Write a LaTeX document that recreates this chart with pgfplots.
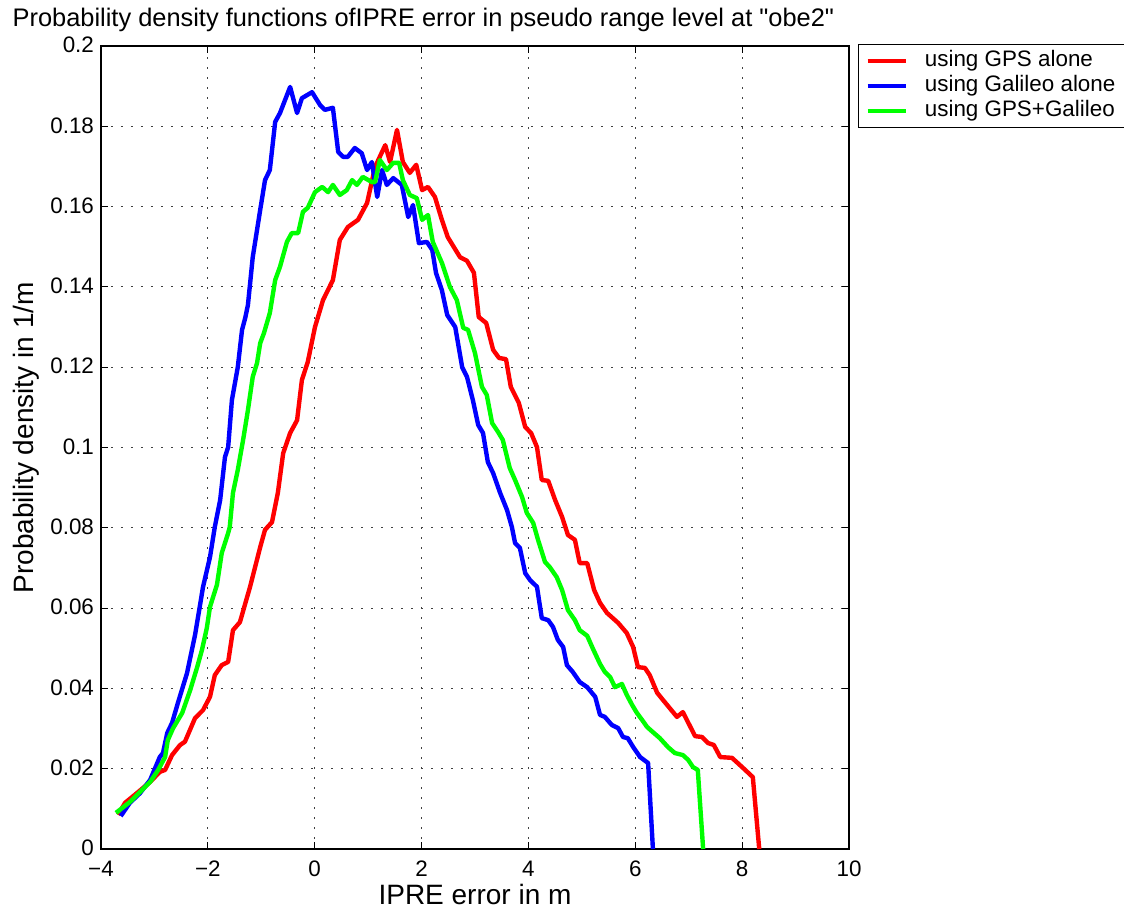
\documentclass[border=0pt]{standalone}
\usepackage{fontspec}
\setmainfont{Liberation Sans}[Ligatures=TeXOff]
\usepackage{pgfplots}
\pgfplotsset{compat=1.18}
\begin{document}
\begin{tikzpicture}
\begin{axis}[
  scale only axis,
  width=374pt, height=401.5pt,
  xmin=-4, xmax=10, ymin=0, ymax=0.2,
  xtick={-4,-2,0,2,4,6,8,10},
  xticklabels={−4,−2,0,2,4,6,8,10},
  ytick={0,0.02,0.04,0.06,0.08,0.1,0.12,0.14,0.16,0.18,0.2},
  yticklabels={0,0.02,0.04,0.06,0.08,0.1,0.12,0.14,0.16,0.18,0.2},
  tick label style={font=\fontsize{11.2}{13}\selectfont},
  xticklabel style={yshift=-2.5pt},
  yticklabel style={yshift=0.5pt},
  tick align=inside,
  major tick length=3.5pt,
  tick style={black, line width=0.5pt},
  axis line style={line width=0.8pt},
  grid=major,
  major grid style={black!75, line width=0.5pt, dash pattern=on 0.8pt off 4.2pt},
  every axis title shift=0pt,
  title={Probability density functions ofIPRE error in pseudo range level at "obe2"},
  title style={at={(0.431,1.0237)}, anchor=base, font=\fontsize{12.7}{15}\selectfont},
  xlabel={IPRE error in m},
  xlabel style={at={(0.5,-0.0685)}, anchor=base, font=\fontsize{14}{16}\selectfont},
  ylabel={Probability density in 1/m},
  ylabel style={at={(-0.0909,0.512)}, anchor=base, font=\fontsize{14}{16}\selectfont},
  legend image code/.code={\draw[#1] (0pt,0pt) -- (19pt,0pt);},
  legend style={at={(1.012,1.0025)}, anchor=north west, draw=black, line width=0.5pt,
    font=\fontsize{11.2}{12.5}\selectfont, inner xsep=3.5pt, inner ysep=2pt,
    nodes={inner ysep=0.25pt, text height=9pt, text depth=3pt},
    column sep=6.5pt, legend cell align=left},
  clip=true,
]
\addplot[red, line width=2.2pt, line join=round] coordinates {
(-3.68,0.0085) (-3.55,0.0115) (-3.33,0.0139) (-3.08,0.0167) (-2.90,0.0192) (-2.80,0.0197) (-2.67,0.0234) (-2.52,0.0259) (-2.43,0.0267) (-2.24,0.0326) (-2.09,0.0346) (-1.96,0.0379) (-1.87,0.0433) (-1.74,0.0458) (-1.62,0.0466) (-1.53,0.0545) (-1.40,0.0565) (-1.21,0.0653) (-1.02,0.0752) (-0.93,0.0795) (-0.80,0.0814) (-0.69,0.0887) (-0.59,0.0986) (-0.46,0.1036) (-0.33,0.1068) (-0.24,0.1168) (-0.13,0.1213) (0.005,0.1300) (0.155,0.1367) (0.34,0.1417) (0.47,0.1517) (0.62,0.1549) (0.81,0.1567) (0.98,0.1609) (1.13,0.1699) (1.32,0.1753) (1.41,0.1711) (1.54,0.1791) (1.65,0.1711) (1.78,0.1684) (1.90,0.1704) (2.01,0.1641) (2.12,0.1649) (2.25,0.1624) (2.38,0.1567) (2.49,0.1524) (2.72,0.1474) (2.85,0.1465) (2.98,0.1435) (3.07,0.1325) (3.21,0.1310) (3.34,0.1243) (3.45,0.1223) (3.58,0.1220) (3.67,0.1151) (3.82,0.1111) (3.94,0.1051) (4.05,0.1036) (4.16,0.1001) (4.25,0.0919) (4.37,0.0917) (4.50,0.0869) (4.63,0.0827) (4.74,0.0782) (4.87,0.0770) (4.96,0.0712) (5.10,0.0712) (5.23,0.0645) (5.34,0.0613) (5.47,0.0588) (5.68,0.0563) (5.84,0.0538) (5.96,0.0503) (6.05,0.0453) (6.18,0.0451) (6.27,0.0433) (6.41,0.0389) (6.52,0.0371) (6.78,0.0329) (6.89,0.0341) (7.12,0.0281) (7.25,0.0279) (7.36,0.0264) (7.47,0.0259) (7.59,0.0229) (7.81,0.0227) (8.00,0.0204) (8.20,0.0179) (8.32,0)
};
\addlegendentry{using GPS alone}
\addplot[blue, line width=2.2pt, line join=round] coordinates {
(-3.63,0.0082) (-3.46,0.0115) (-3.27,0.0139) (-3.08,0.0172) (-2.90,0.0229) (-2.84,0.0239) (-2.76,0.0289) (-2.67,0.0314) (-2.56,0.0364) (-2.39,0.0438) (-2.24,0.0533) (-2.09,0.0653) (-1.96,0.0727) (-1.87,0.0802) (-1.77,0.0869) (-1.68,0.0976) (-1.62,0.1001) (-1.55,0.1118) (-1.44,0.1200) (-1.36,0.1293) (-1.30,0.1323) (-1.25,0.1355) (-1.16,0.1474) (-1.02,0.1592) (-0.93,0.1666) (-0.84,0.1691) (-0.74,0.1811) (-0.65,0.1833) (-0.46,0.1898) (-0.33,0.1833) (-0.24,0.1870) (-0.05,0.1885) (0.10,0.1853) (0.19,0.1841) (0.34,0.1846) (0.44,0.1736) (0.53,0.1724) (0.62,0.1724) (0.75,0.1746) (0.88,0.1733) (0.98,0.1691) (1.07,0.1711) (1.17,0.1624) (1.26,0.1691) (1.35,0.1654) (1.47,0.1671) (1.63,0.1654) (1.75,0.1574) (1.84,0.1604) (1.95,0.1509) (2.10,0.1512) (2.20,0.1492) (2.27,0.1435) (2.38,0.1392) (2.48,0.1330) (2.63,0.1300) (2.76,0.1200) (2.85,0.1176) (2.96,0.1118) (3.06,0.1056) (3.15,0.1036) (3.24,0.0964) (3.34,0.0936) (3.47,0.0887) (3.60,0.0844) (3.69,0.0802) (3.75,0.0762) (3.84,0.0750) (3.94,0.0687) (4.03,0.0670) (4.16,0.0653) (4.25,0.0575) (4.37,0.0570) (4.46,0.0553) (4.55,0.0521) (4.65,0.0503) (4.72,0.0458) (4.83,0.0441) (4.96,0.0416) (5.10,0.0403) (5.25,0.0379) (5.34,0.0334) (5.43,0.0329) (5.56,0.0309) (5.68,0.0301) (5.77,0.0279) (5.86,0.0276) (5.96,0.0254) (6.09,0.0229) (6.24,0.0214) (6.33,0)
};
\addlegendentry{using Galileo alone}
\addplot[green, line width=2.2pt, line join=round] coordinates {
(-3.72,0.0090) (-3.46,0.0117) (-3.27,0.0142) (-3.08,0.0167) (-2.93,0.0197) (-2.80,0.0229) (-2.75,0.0271) (-2.65,0.0301) (-2.48,0.0339) (-2.33,0.0396) (-2.20,0.0453) (-2.11,0.0496) (-2.02,0.0550) (-1.96,0.0603) (-1.83,0.0658) (-1.74,0.0737) (-1.62,0.0787) (-1.59,0.0802) (-1.53,0.0887) (-1.44,0.0944) (-1.34,0.1019) (-1.25,0.1093) (-1.16,0.1176) (-1.08,0.1210) (-1.02,0.1260) (-0.95,0.1285) (-0.84,0.1335) (-0.74,0.1417) (-0.65,0.1450) (-0.52,0.1512) (-0.43,0.1534) (-0.31,0.1534) (-0.22,0.1587) (-0.13,0.1597) (0.005,0.1636) (0.14,0.1649) (0.25,0.1636) (0.34,0.1654) (0.47,0.1629) (0.60,0.1641) (0.70,0.1666) (0.79,0.1654) (0.90,0.1674) (1.07,0.1661) (1.13,0.1661) (1.22,0.1716) (1.35,0.1691) (1.47,0.1709) (1.58,0.1709) (1.65,0.1666) (1.78,0.1629) (1.91,0.1621) (2.01,0.1567) (2.12,0.1579) (2.21,0.1512) (2.38,0.1460) (2.53,0.1400) (2.66,0.1367) (2.78,0.1298) (2.87,0.1293) (3.00,0.1235) (3.13,0.1151) (3.22,0.1131) (3.32,0.1061) (3.43,0.1039) (3.52,0.1019) (3.65,0.0949) (3.75,0.0919) (3.88,0.0877) (3.97,0.0837) (4.09,0.0812) (4.18,0.0770) (4.31,0.0715) (4.40,0.0702) (4.53,0.0677) (4.63,0.0645) (4.74,0.0595) (4.87,0.0570) (4.96,0.0545) (5.10,0.0531) (5.21,0.0498) (5.34,0.0461) (5.43,0.0441) (5.53,0.0428) (5.62,0.0403) (5.75,0.0411) (5.84,0.0384) (5.94,0.0359) (6.03,0.0339) (6.13,0.0321) (6.22,0.0304) (6.33,0.0291) (6.46,0.0276) (6.61,0.0254) (6.74,0.0239) (6.89,0.0234) (6.99,0.0222) (7.08,0.0204) (7.17,0.0197) (7.27,0)
};
\addlegendentry{using GPS+Galileo}
\end{axis}
\pgfresetboundingbox
\path (current axis.south west) ++(-50.5pt,-30.5pt) rectangle ++(562pt,455pt);
\end{tikzpicture}
\end{document}
